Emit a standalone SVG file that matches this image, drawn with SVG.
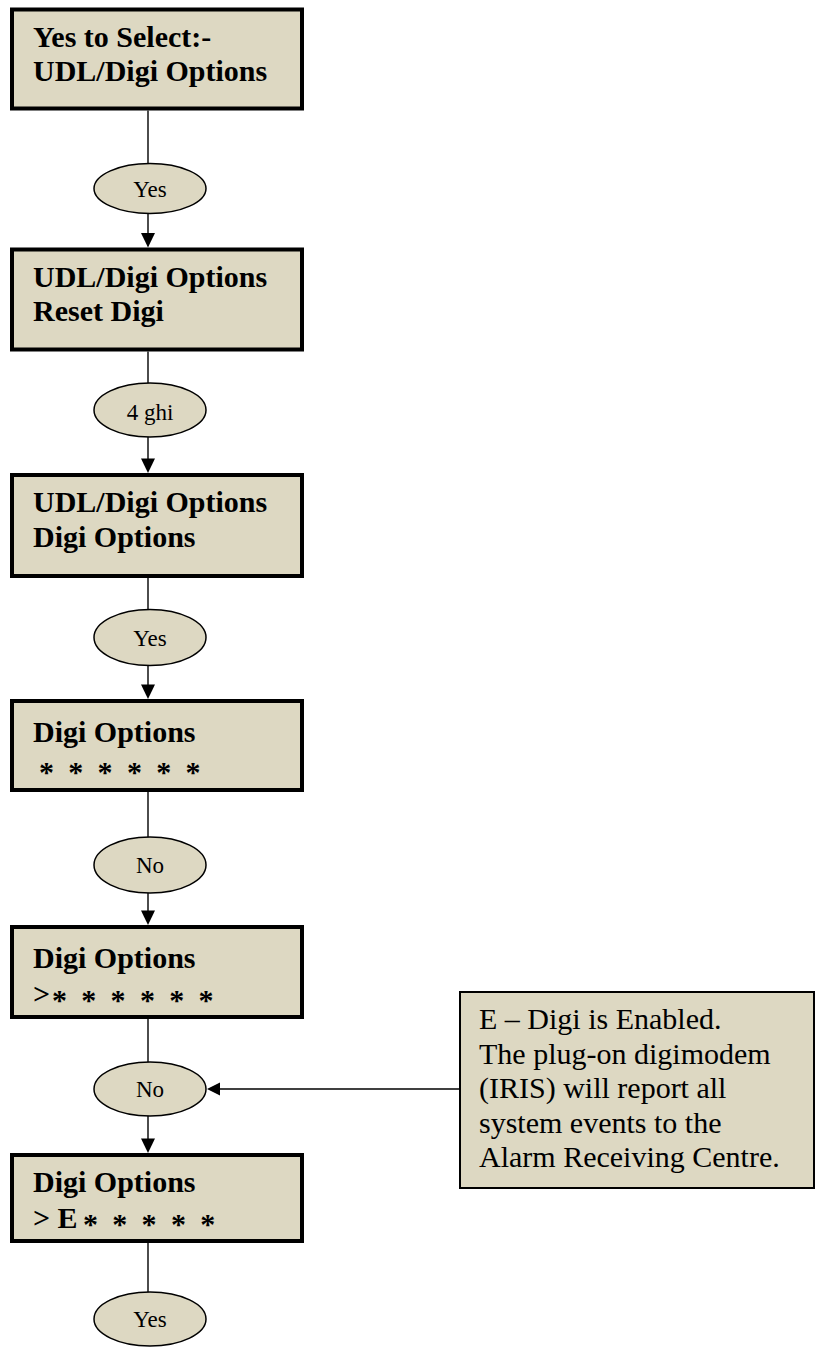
<svg xmlns="http://www.w3.org/2000/svg" width="816" height="1347" viewBox="0 0 816 1347">
<style>
.box{fill:#DDD8C2;stroke:#000;stroke-width:4}
.oval{fill:#DDD8C2;stroke:#000;stroke-width:1.5}
.note{fill:#DDD8C2;stroke:#000;stroke-width:2}
.t{font-family:"Liberation Serif","Times New Roman",serif;font-weight:bold;font-size:30px;fill:#000}
.st{font-family:"Liberation Serif","Times New Roman",serif;font-weight:bold;font-size:30px;fill:#000;word-spacing:6.8px}
.o{font-family:"Liberation Serif","Times New Roman",serif;font-size:23px;fill:#000;text-anchor:middle}
.n{font-family:"Liberation Serif","Times New Roman",serif;font-size:30px;fill:#000}
.c{stroke:#000;stroke-width:1.4;fill:none}
.h{fill:#000}
</style>
<rect width="816" height="1347" fill="#fff"/>
<g id="connectors">
<line class="c" x1="148" y1="110.5" x2="148" y2="163.5"/>
<line class="c" x1="148" y1="213.5" x2="148" y2="234"/>
<polygon class="h" points="141,233 155,233 148,247.5"/>
<line class="c" x1="148" y1="351.5" x2="148" y2="383"/>
<line class="c" x1="148" y1="437" x2="148" y2="460"/>
<polygon class="h" points="141,458.5 155,458.5 148,473"/>
<line class="c" x1="148" y1="578" x2="148" y2="609.5"/>
<line class="c" x1="148" y1="665.5" x2="148" y2="686"/>
<polygon class="h" points="141,684.5 155,684.5 148,699"/>
<line class="c" x1="148" y1="792" x2="148" y2="837"/>
<line class="c" x1="148" y1="893" x2="148" y2="912"/>
<polygon class="h" points="141,910.5 155,910.5 148,925"/>
<line class="c" x1="148" y1="1019" x2="148" y2="1062"/>
<line class="c" x1="148" y1="1116" x2="148" y2="1140"/>
<polygon class="h" points="141,1138.5 155,1138.5 148,1153"/>
<line class="c" x1="148" y1="1243" x2="148" y2="1292"/>
<line class="c" x1="459" y1="1089" x2="218" y2="1089"/>
<polygon class="h" points="207,1089 220,1082.5 220,1095.5"/>
</g>
<g id="n1"><rect class="box" x="12" y="9.5" width="290" height="99"/>
<text class="t" x="33" y="47">Yes to Select:-</text><text class="t" x="33" y="81">UDL/Digi Options</text></g>
<g id="e1"><ellipse class="oval" cx="150" cy="188.5" rx="56" ry="25"/><text class="o" x="150" y="196.5">Yes</text></g>
<g id="n2"><rect class="box" x="12" y="249.5" width="290" height="100"/>
<text class="t" x="33" y="287">UDL/Digi Options</text><text class="t" x="33" y="321">Reset Digi</text></g>
<g id="e2"><ellipse class="oval" cx="150" cy="410" rx="56" ry="27"/><text class="o" x="150" y="420">4 ghi</text></g>
<g id="n3"><rect class="box" x="12" y="475" width="290" height="101"/>
<text class="t" x="33" y="512">UDL/Digi Options</text><text class="t" x="33" y="547">Digi Options</text></g>
<g id="e3"><ellipse class="oval" cx="150" cy="637.5" rx="56" ry="28"/><text class="o" x="150" y="645.5">Yes</text></g>
<g id="n4"><rect class="box" x="12" y="701" width="290" height="89"/>
<text class="t" x="33" y="742">Digi Options</text><text class="st" x="39" y="782">* * * * * *</text></g>
<g id="e4"><ellipse class="oval" cx="150" cy="865" rx="56" ry="28"/><text class="o" x="150" y="873">No</text></g>
<g id="n5"><rect class="box" x="12" y="927" width="290" height="90"/>
<text class="t" x="33" y="968">Digi Options</text><text class="t" x="33" y="1004">&gt;</text><text class="st" x="52" y="1010">* * * * * *</text></g>
<g id="e5"><ellipse class="oval" cx="150" cy="1089" rx="56" ry="27"/><text class="o" x="150" y="1097">No</text></g>
<g id="n6"><rect class="box" x="12" y="1155" width="290" height="86"/>
<text class="t" x="33" y="1228">&gt; E</text><text class="t" x="33" y="1192">Digi Options</text><text class="st" x="83" y="1234">* * * * *</text></g>
<g id="e6"><ellipse class="oval" cx="150" cy="1319" rx="56" ry="27"/><text class="o" x="150" y="1327">Yes</text></g>
<g id="note"><rect class="note" x="460" y="992" width="354" height="196"/>
<text class="n" x="479" y="1029">E – Digi is Enabled.</text>
<text class="n" x="479" y="1063.5">The plug-on digimodem</text>
<text class="n" x="479" y="1098">(IRIS) will report all</text>
<text class="n" x="479" y="1132.5">system events to the</text>
<text class="n" x="479" y="1167">Alarm Receiving Centre.</text></g>
</svg>
